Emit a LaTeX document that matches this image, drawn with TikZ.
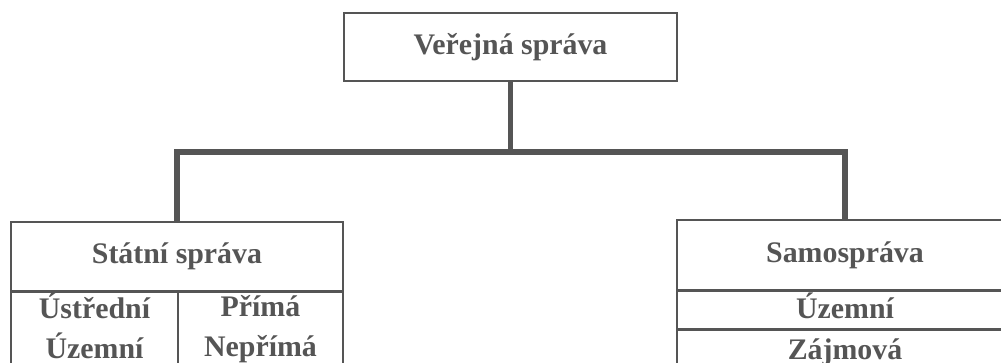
\documentclass[tikz,border=0pt]{standalone}
\usepackage{fontspec}
\setmainfont{Liberation Serif}
\usepackage{tikz}
\usetikzlibrary{positioning}

\definecolor{ink}{RGB}{85,85,85}

\tikzset{
  box/.style={draw=ink, line width=0.9pt, fill=white, inner sep=0pt, align=center,
    text=ink, font=\fontsize{17}{22.7}\selectfont\bfseries},
  conn/.style={draw=ink, line width=3.4pt, line join=miter}
}

\begin{document}
\begin{tikzpicture}[x=0.02cm, y=-0.02cm]
  \useasboundingbox (0,0) rectangle (1001,362);

  \node[box, minimum width=6.66cm, minimum height=1.36cm] (verejna) at (510.5,47) {Veřejná správa};

  \node[box, minimum width=6.64cm, minimum height=1.38cm] (statni) at (177,256.5) {Státní správa};
  \node[box, minimum width=3.34cm, minimum height=1.62cm, text depth=8pt, anchor=north west] (ustredni) at (statni.south west) {Ústřední\\Územní};
  \node[box, minimum width=3.30cm, minimum height=1.62cm, text depth=8pt, anchor=north east] (prima) at (statni.south east) {Přímá\\Nepřímá};

  \node[box, minimum width=6.72cm, minimum height=1.40cm] (samo) at (845,255) {Samospráva};
  \node[box, minimum width=6.72cm, minimum height=0.74cm, text depth=5pt, anchor=north] (uzemni) at (samo.south) {Územní};
  \node[box, minimum width=6.72cm, minimum height=0.88cm, anchor=north] (zajmova) at (uzemni.south) {Zájmová};

  % connectors
  \coordinate (bar) at (510.5,152);
  \draw[conn] (verejna.south) -- (bar);
  \draw[conn] (statni.north) |- (bar) -| (samo.north);
\end{tikzpicture}
\end{document}
